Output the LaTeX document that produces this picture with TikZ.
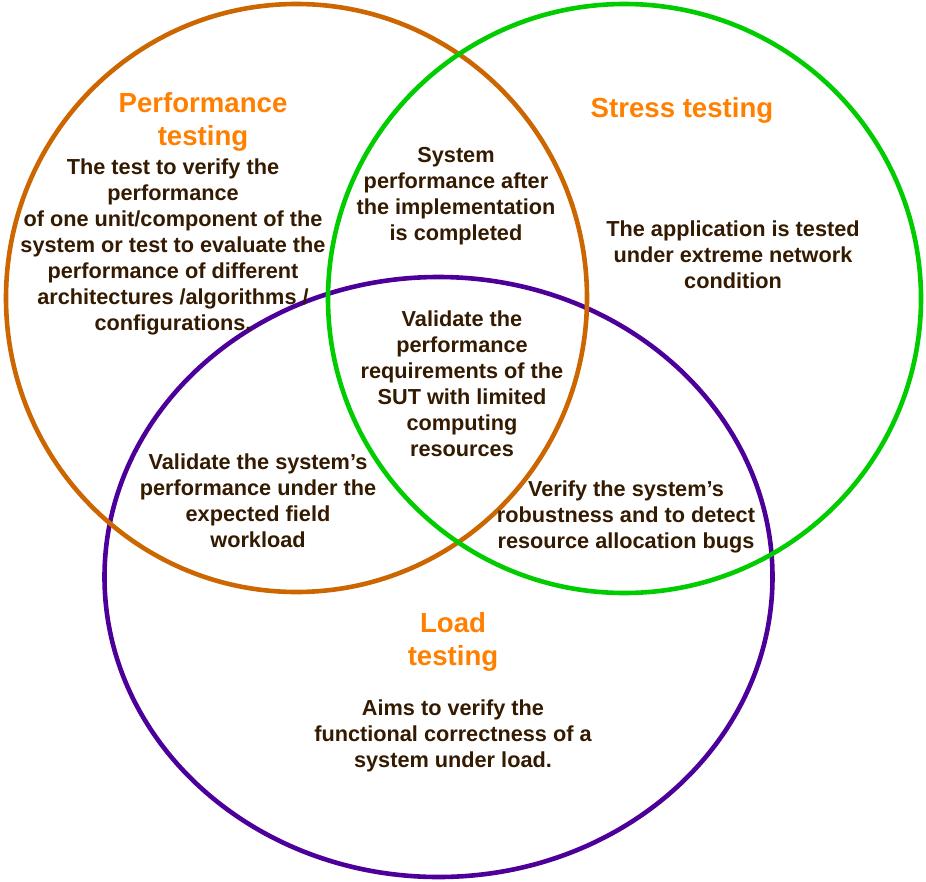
\documentclass[tikz,border=0pt]{standalone}
\usepackage{fontspec}
\setmainfont{Liberation Sans}
\definecolor{perfcol}{HTML}{CC6600}
\definecolor{stresscol}{HTML}{00CC00}
\definecolor{loadcol}{HTML}{4C0099}
\definecolor{headcol}{HTML}{FF8000}
\definecolor{txtcol}{HTML}{331A00}
\tikzset{
	ring/.style = {line width=4.6pt},
	head/.style = {text=headcol, align=center, inner sep=0pt, font=\fontsize{27.6}{32.5}\selectfont\bfseries},
	body/.style = {text=txtcol, align=center, inner sep=0pt, font=\fontsize{21.7}{26}\selectfont\bfseries}
}

\begin{document}
\begin{tikzpicture}[x=1pt, y=-1pt]
					\useasboundingbox (0,0) rectangle (926,881);
					% ====== Centres ========
					\coordinate (P) at (296.5,298);
					\coordinate (S) at (624.5,298.5);
					\coordinate (L) at (438.5,577);
					% ====== Sets ========
					\draw[ring, loadcol] (L) ellipse [x radius=334, y radius=300];
					\draw[ring, perfcol] (P) ellipse [x radius=290.5, y radius=294];
					\draw[ring, stresscol] (S) ellipse [x radius=296.5, y radius=294.5];
					% ====== Titles ========
					\node[head] (perfhead) at (203,122) {Performance\\testing};
					\node[head] (stresshead) at (682,110) {Stress testing};
					\node[head] (loadhead) at (453,642) {Load\\testing};
					% ====== Texts ========
					\node[body] (perftxt) at (173,246.5) {The test to verify the\\performance\\of one unit/component of the\\system or test to evaluate the\\performance of different\\architectures /algorithms /\\configurations.};
					\node[body] (stresstxt) at (733,254.5) {The application is tested\\under extreme network\\condition};
					\node[body] (loadtxt) at (453,736) {Aims to verify the\\functional correctness of a\\system under load.};
					\node[body] (pstxt) at (456,196.5) {System\\performance after\\the implementation\\is completed};
					\node[body] (pltxt) at (258,501) {Validate the system’s\\performance under the\\expected field\\workload};
					\node[body] (sltxt) at (626,516.5) {Verify the system’s\\robustness and to detect\\resource allocation bugs};
					\node[body] (alltxt) at (462,384) {Validate the\\performance\\requirements of the\\SUT with limited\\computing\\resources};
\end{tikzpicture}
\end{document}
